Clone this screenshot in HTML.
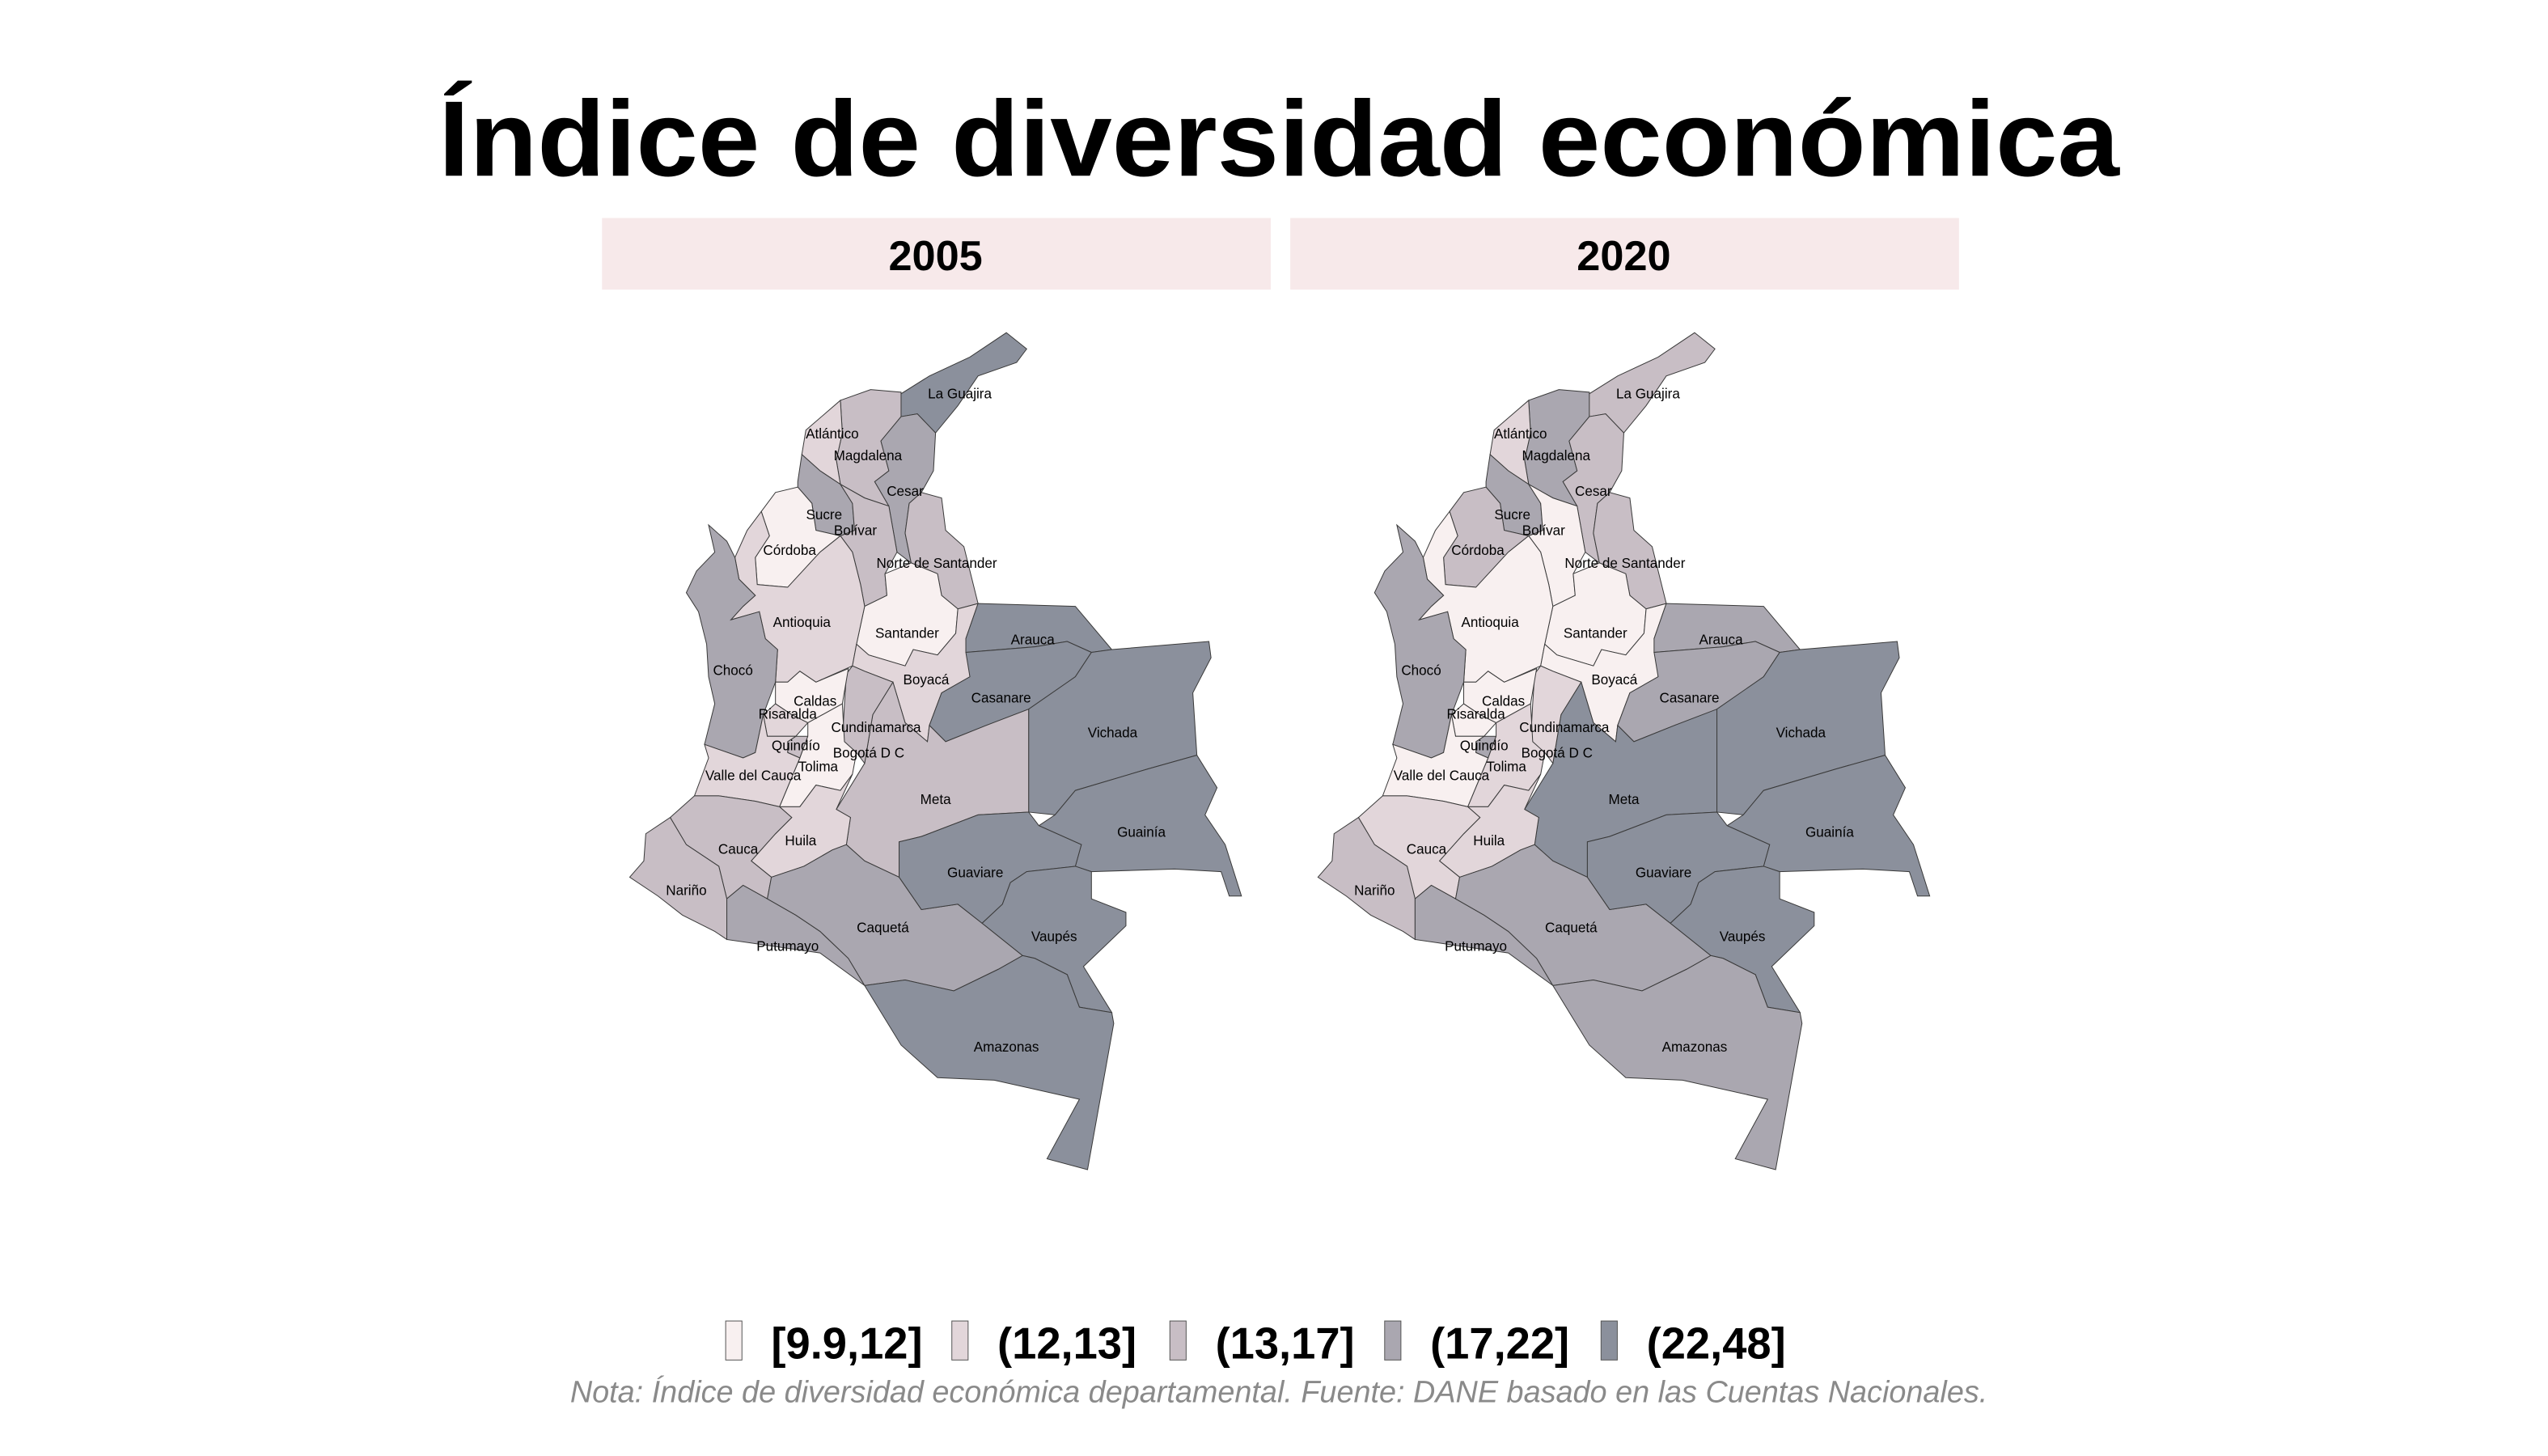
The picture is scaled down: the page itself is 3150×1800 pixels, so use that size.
<!DOCTYPE html>
<html><head><meta charset="utf-8"><style>
html,body{margin:0;padding:0;background:#fff;}
svg{display:block;font-family:"Liberation Sans",Arial,sans-serif;}
</style></head><body>
<svg id="chart" width="3150" height="1800" viewBox="0 0 1566 895" preserveAspectRatio="none" xmlns="http://www.w3.org/2000/svg">
<rect width="1575" height="900" fill="#fff"/>
<text x="786" y="108" text-anchor="middle" font-size="66" font-weight="bold" textLength="1033" lengthAdjust="spacingAndGlyphs">Índice de diversidad económica</text>
<g><rect x="370" y="134" width="411" height="44" fill="#f7e9ea"/><text x="575" y="166" text-anchor="middle" font-size="26" font-weight="bold">2005</text></g>
<g><rect x="793" y="134" width="411" height="44" fill="#f7e9ea"/><text x="998" y="166" text-anchor="middle" font-size="26" font-weight="bold">2020</text></g>
<g id="maps"></g>
<g id="legend"></g>
<text x="786" y="862" text-anchor="middle" font-size="18.8" font-style="italic" fill="#8a8a8a">Nota: Índice de diversidad económica departamental. Fuente: DANE basado en las Cuentas Nacionales.</text>
</svg>
<script>
const classLabels=["[9.9,12]","(12,13]","(13,17]","(17,22]","(22,48]"];
const classColors=["#f8f0f0","#e2d6da","#c8bec5","#aaa7b0","#8b909c"];
const years=["2005","2020"];
const departments=["La Guajira","Magdalena","Atlántico","Cesar","Sucre","Bolívar","Córdoba","Norte de Santander","Santander","Antioquia","Chocó","Boyacá","Arauca","Casanare","Vichada","Guainía","Meta","Cundinamarca","Caldas","Risaralda","Quindío","Tolima","Valle del Cauca","Huila","Cauca","Nariño","Putumayo","Caquetá","Guaviare","Vaupés","Amazonas"];
const class2005=[5,3,2,4,4,3,1,3,1,2,4,2,5,5,5,5,3,3,1,2,3,1,2,2,3,3,4,4,5,5,5];
const class2020=[3,4,2,3,4,1,3,3,1,1,4,1,4,4,5,5,5,2,1,1,4,2,1,2,2,3,4,4,5,5,4];
// geometry (not data): simplified outlines in local map coordinates
const shapes={
"La Guajira":[[950,15],[1000,45],[975,70],[880,95],[830,150],[775,200],[730,165],[690,170],[685,130],[760,95],[860,60]],
"Magdalena":[[540,140],[615,120],[690,125],[690,170],[640,215],[660,270],[625,290],[660,335],[600,320],[540,295],[530,250],[545,200]],
"Atlántico":[[455,195],[540,140],[545,200],[530,250],[540,295],[490,270],[445,240]],
"Cesar":[[690,170],[730,165],[775,200],[770,270],[740,310],[710,330],[700,385],[715,440],[680,420],[660,335],[625,290],[660,270],[640,215]],
"Sucre":[[445,240],[490,270],[540,295],[570,330],[575,380],[540,390],[480,380],[470,330],[435,300],[435,290]],
"Bolívar":[[540,295],[600,320],[660,335],[680,420],[650,460],[655,500],[600,520],[590,480],[570,420],[540,390],[575,380],[570,330]],
"Córdoba":[[345,345],[380,310],[435,300],[470,330],[480,380],[540,390],[490,420],[410,485],[335,480],[330,430],[365,390]],
"Norte de Santander":[[710,330],[740,310],[790,320],[800,380],[845,410],[880,515],[830,525],[790,500],[780,460],[715,440],[700,385]],
"Santander":[[650,460],[715,440],[780,460],[790,500],[830,525],[825,570],[780,610],[720,600],[700,630],[610,610],[580,590],[600,520],[655,500]],
"Antioquia":[[310,380],[345,345],[365,390],[330,430],[335,480],[410,485],[490,420],[540,390],[570,420],[590,480],[600,520],[580,590],[570,630],[480,660],[440,640],[410,660],[380,660],[385,600],[355,580],[340,530],[270,545],[300,520],[330,500],[290,470],[280,430]],
"Chocó":[[215,370],[260,400],[280,430],[290,470],[330,500],[300,520],[270,545],[340,530],[355,580],[385,600],[380,660],[350,720],[330,790],[300,800],[205,775],[230,700],[215,650],[210,590],[190,530],[160,495],[185,455],[230,420]],
"Boyacá":[[580,590],[610,610],[700,630],[720,600],[780,610],[825,570],[830,525],[880,515],[850,580],[860,650],[790,680],[760,740],[755,770],[700,735],[670,660],[600,640],[570,630]],
"Arauca":[[880,515],[1120,520],[1210,600],[1160,605],[1100,585],[1020,595],[850,605],[850,580]],
"Casanare":[[850,605],[1020,595],[1100,585],[1160,605],[1120,650],[1010,710],[900,740],[800,770],[760,740],[790,680],[860,650]],
"Vichada":[[1160,605],[1210,600],[1450,585],[1455,615],[1410,680],[1420,795],[1300,820],[1120,860],[1070,905],[1005,900],[1005,710],[1120,650]],
"Guainía":[[1070,905],[1120,860],[1300,820],[1420,795],[1470,855],[1440,905],[1490,960],[1530,1055],[1500,1055],[1480,1010],[1365,1005],[1160,1010],[1120,1000],[1135,960],[1030,925]],
"Meta":[[760,740],[800,770],[900,740],[1005,710],[1005,900],[880,905],[740,945],[685,955],[685,1020],[600,990],[555,960],[565,910],[530,895],[600,810],[620,720],[670,660],[700,735],[755,770]],
"Cundinamarca":[[570,630],[600,640],[670,660],[620,720],[600,810],[580,790],[545,770],[550,700],[555,645]],
"Caldas":[[380,660],[410,660],[440,640],[480,660],[560,635],[545,700],[460,735],[420,720],[380,700]],
"Risaralda":[[350,720],[380,700],[420,720],[460,735],[430,760],[360,760]],
"Quindío":[[410,770],[430,760],[460,760],[440,800],[410,790]],
"Tolima":[[460,735],[545,700],[550,770],[580,790],[570,830],[540,860],[480,850],[440,890],[390,890],[440,800],[460,760]],
"Valle del Cauca":[[205,775],[300,800],[330,790],[350,720],[360,760],[430,760],[410,770],[410,790],[440,800],[390,890],[330,880],[240,870],[180,870],[215,800]],
"Huila":[[390,890],[440,890],[480,850],[540,860],[570,830],[530,895],[565,910],[555,960],[520,970],[450,1000],[370,1020],[320,990],[380,940],[420,910]],
"Cauca":[[120,910],[180,870],[240,870],[330,880],[390,890],[420,910],[380,940],[320,990],[370,1020],[360,1060],[300,1035],[260,1060],[240,1000],[160,960]],
"Nariño":[[20,1020],[55,990],[60,940],[120,910],[160,960],[240,1000],[260,1060],[260,1135],[230,1120],[150,1090],[90,1055]],
"Putumayo":[[260,1060],[300,1035],[360,1060],[430,1090],[490,1120],[560,1170],[600,1220],[490,1160],[260,1135]],
"Caquetá":[[370,1020],[450,1000],[520,970],[555,960],[600,990],[685,1020],[740,1080],[830,1070],[890,1105],[990,1165],[930,1190],[820,1230],[700,1210],[600,1220],[560,1170],[490,1120],[430,1090],[360,1060]],
"Guaviare":[[685,955],[740,945],[880,905],[1005,900],[1030,925],[1135,960],[1120,1000],[1000,1010],[960,1030],[940,1070],[890,1105],[830,1070],[740,1080],[685,1020]],
"Vaupés":[[890,1105],[940,1070],[960,1030],[1000,1010],[1120,1000],[1160,1010],[1160,1060],[1245,1085],[1245,1110],[1140,1185],[1210,1270],[1130,1260],[1100,1200],[1020,1170],[990,1165]],
"Amazonas":[[600,1220],[700,1210],[820,1230],[930,1190],[990,1165],[1020,1170],[1100,1200],[1130,1260],[1210,1270],[1215,1290],[1150,1560],[1050,1540],[1130,1430],[920,1395],[780,1390],[690,1330]]
};
const labelAt={"La Guajira":[835,127],"Magdalena":[608,241],"Atlántico":[520,201],"Cesar":[700,307],"Sucre":[500,350],"Bolívar":[577,380],"Córdoba":[415,416],"Norte de Santander":[778,440],"Santander":[705,569],"Antioquia":[445,549],"Chocó":[275,638],"Boyacá":[752,655],"Arauca":[1015,581],"Casanare":[937,689],"Vichada":[1212,753],"Guainía":[1283,937],"Meta":[775,876],"Cundinamarca":[628,743],"Caldas":[478,695],"Risaralda":[410,719],"Quindío":[430,777],"Tolima":[485,816],"Valle del Cauca":[325,832],"Huila":[442,952],"Cauca":[288,968],"Nariño":[160,1044],"Putumayo":[410,1147],"Caquetá":[645,1113],"Guaviare":[873,1011],"Vaupés":[1068,1129],"Amazonas":[950,1333]};
const NS="http://www.w3.org/2000/svg";
const maps=document.getElementById('maps');
const offsets=[0,423];
function px(x,o){return 382+o+x*0.249;}
function py(y){return 199.5+y*0.333;}
years.forEach((yr,k)=>{
  const vals=k===0?class2005:class2020;
  const g=document.createElementNS(NS,'g');
  
  
  maps.appendChild(g);
  departments.forEach((d,i)=>{
    const p=document.createElementNS(NS,'path');
    p.setAttribute('d','M'+shapes[d].map(q=>px(q[0],offsets[k]).toFixed(1)+','+py(q[1]).toFixed(1)).join('L')+'Z');
    p.setAttribute('fill',classColors[vals[i]-1]);
    p.setAttribute('stroke','#3a3a3a');
    p.setAttribute('stroke-width','0.5');
    
    
    g.appendChild(p);
  });
  departments.forEach((d)=>{
    const t=document.createElementNS(NS,'text');
    t.setAttribute('x',px(labelAt[d][0],offsets[k]).toFixed(1));
    t.setAttribute('y',(py(labelAt[d][1])+3).toFixed(1));
    t.setAttribute('text-anchor','middle');
    t.setAttribute('font-size','8.5');
    t.textContent=d;
    
    
    g.appendChild(t);
  });
  const t=document.createElementNS(NS,'text');
  t.setAttribute('x',px(610,offsets[k]).toFixed(1));
  t.setAttribute('y',(py(790)+3).toFixed(1));
  t.setAttribute('text-anchor','middle');
  t.setAttribute('font-size','8.5');
  t.textContent='Bogotá D C';
  
  
  g.appendChild(t);
});
const legend=document.getElementById('legend');
const keyX=[446,585,719,851,984];
classLabels.forEach((lab,i)=>{
  const r=document.createElementNS(NS,'rect');
  r.setAttribute('x',keyX[i]);r.setAttribute('y',812);r.setAttribute('width',10);r.setAttribute('height',24);
  r.setAttribute('fill',classColors[i]);r.setAttribute('stroke','#555');r.setAttribute('stroke-width','0.5');
  
  
  legend.appendChild(r);
  const t=document.createElementNS(NS,'text');
  t.setAttribute('x',keyX[i]+28);t.setAttribute('y',835);
  t.setAttribute('font-size','27');t.setAttribute('font-weight','bold');
  t.textContent=lab;
  
  
  legend.appendChild(t);
});
</script>
</body></html>
